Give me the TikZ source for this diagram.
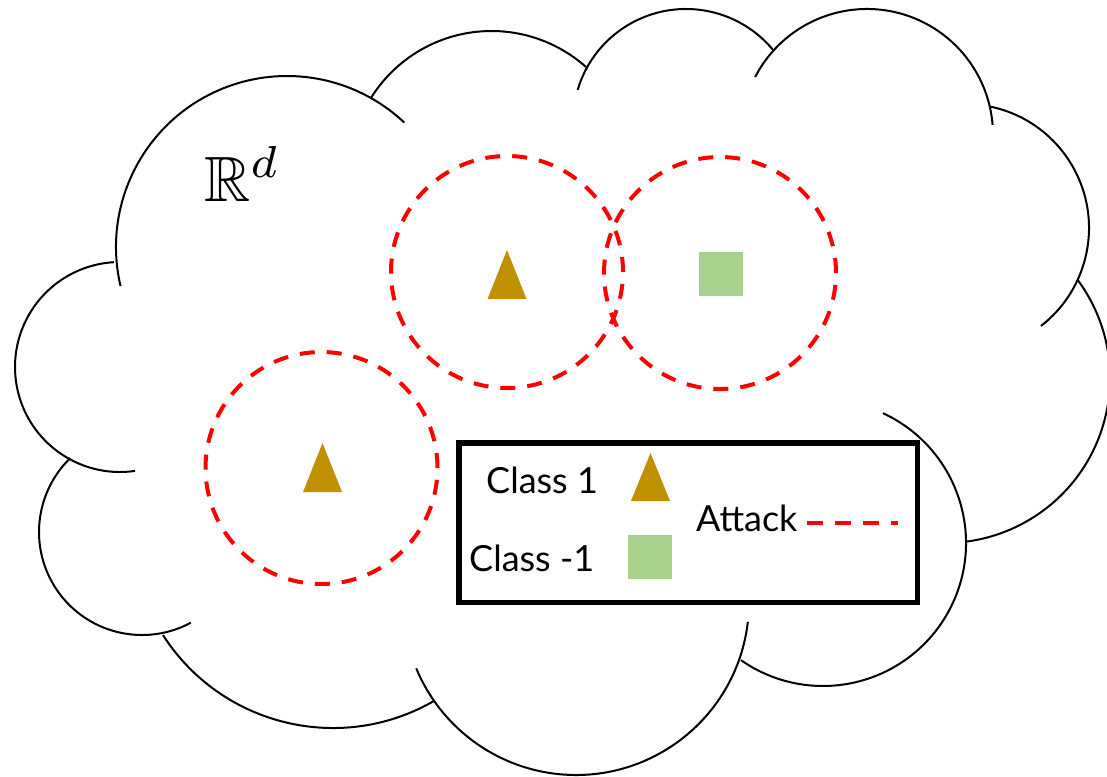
\documentclass[tikz,border=0pt]{standalone}
\usepackage{fontspec}
\setsansfont{Lato}
\usepackage{amssymb}
\definecolor{gold}{HTML}{BF9000}
\definecolor{lgreen}{HTML}{A9D18E}
\definecolor{atkred}{HTML}{FF0000}
\tikzset{
  cloudline/.style={line width=2pt, black},
  atkcircle/.style={circle, draw=atkred, line width=4pt, dash pattern=on 15pt off 12pt, minimum size=232pt, inner sep=0pt},
  markbox/.style={inner sep=0pt, outer sep=0pt},
  legtext/.style={font=\sffamily\fontsize{36}{40}\selectfont, inner sep=0pt, anchor=base west},
  atkline/.style={draw=atkred, line width=4pt, dash pattern=on 16pt off 12pt},
}
\newcommand\lobe[5]{\draw[cloudline] ([shift={(#4:#3pt)}]#1pt,-#2pt) arc[start angle=#4,end angle=#5,radius=#3pt];}
\begin{document}
\begin{tikzpicture}[x=1pt,y=1pt]
\useasboundingbox (0,0) rectangle (1107,-776);
% cloud
\lobe{287}{247}{171}{193.2}{46.7}
\lobe{491.5}{173}{142}{148.1}{48.3}
\lobe{686}{122}{113}{163.5}{39.6}
\lobe{867}{135}{126}{152.6}{4.6}
\lobe{965}{228}{124}{78.4}{-52.2}
\lobe{945}{378}{165}{36.4}{-82.7}
\lobe{823}{543}{143}{65.2}{-125}
\lobe{576}{602}{173}{-6.6}{-157.5}
\lobe{333}{526}{202}{-60}{-147.3}
\lobe{142}{532}{103}{-61.7}{-225.8}
\lobe{120}{367}{105}{-81.8}{-266.7}
% space label
\node[anchor=base west, inner sep=0pt] (space) at (204,-201) {\scalebox{6.4}{$\mathbb{R}^d$}};
% attack circles
\node[atkcircle] (c1) at (507,-272) {};
\node[atkcircle] (c2) at (720,-273) {};
\node[atkcircle] (c3) at (321.5,-468) {};
% points
\node[markbox, minimum width=39pt, minimum height=49pt] (t1) at (507,-274.5) {};
\fill[gold] (t1.south west) -- (t1.south east) -- (t1.north) -- cycle;
\node[markbox, minimum width=39pt, minimum height=49pt] (t2) at (322.5,-467.5) {};
\fill[gold] (t2.south west) -- (t2.south east) -- (t2.north) -- cycle;
\node[markbox, fill=lgreen, minimum size=44pt] (s1) at (721,-274) {};
% legend
\node[draw, line width=5.5pt, minimum width=458.5pt, minimum height=159.5pt, inner sep=0pt] (legend) at (688.25,-522.75) {};
\node[legtext] (cl1) at (486,-493) {Class 1};
\node[legtext] (clm1) at (469,-571) {Class -1};
\node[legtext] (atk) at (696,-531) {Attack};
\node[markbox, minimum width=39pt, minimum height=48pt] (t3) at (650.5,-477) {};
\fill[gold] (t3.south west) -- (t3.south east) -- (t3.north) -- cycle;
\node[markbox, fill=lgreen, minimum size=44pt] (s2) at (650,-557) {};
\coordinate (atkA) at (807,-523);
\coordinate (atkB) at (898,-523);
\draw[atkline] (atkA) -- (atkB);
\end{tikzpicture}
\end{document}
